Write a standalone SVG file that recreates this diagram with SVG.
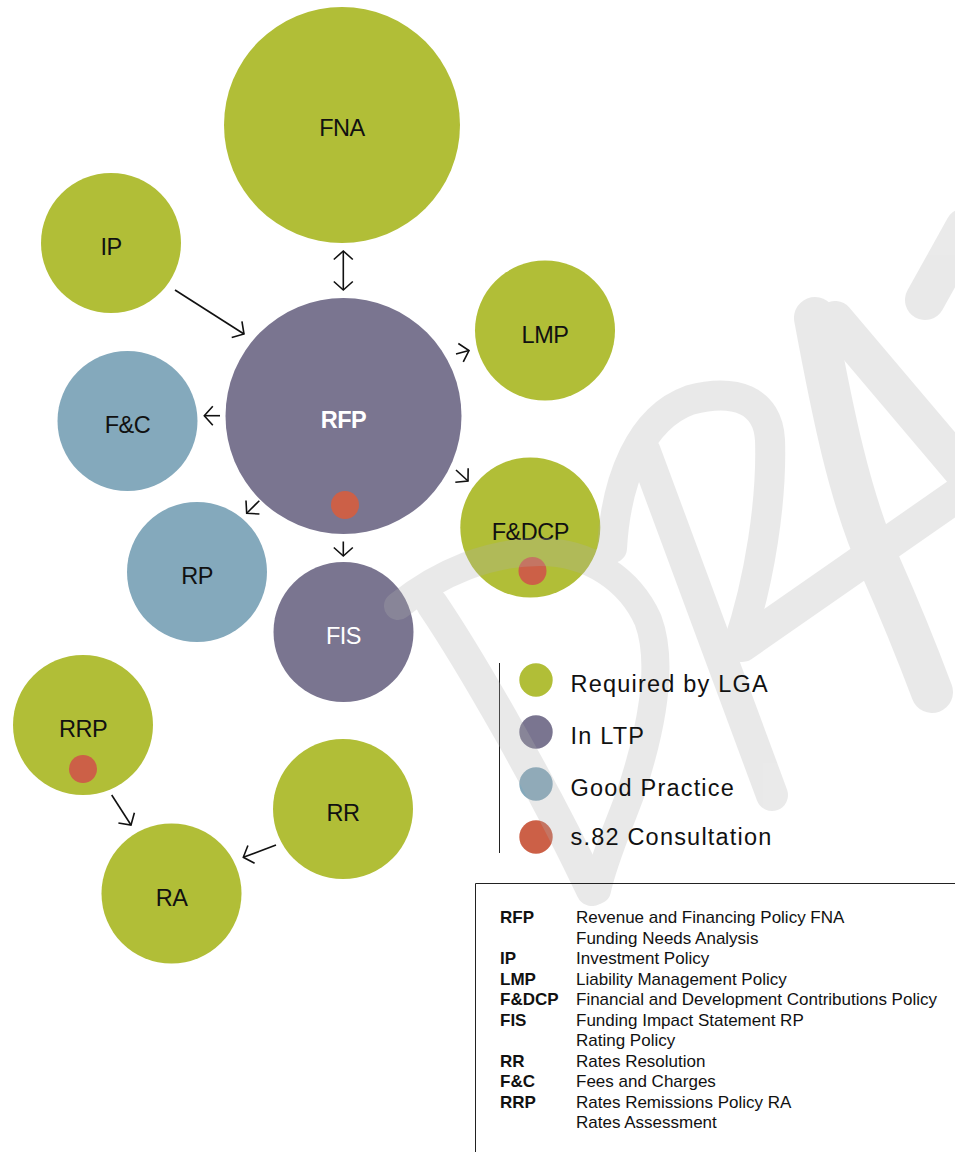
<svg xmlns="http://www.w3.org/2000/svg" width="955" height="1152" viewBox="0 0 955 1152">
<style>
.g{fill:#B1BE37}.p{fill:#7A7590}.b{fill:#84A9BC}.r{fill:#CC6047}
.lbl{font-family:"Liberation Sans",Arial,sans-serif;font-size:23.5px;text-anchor:middle;fill:#111;letter-spacing:-0.5px}
.wt{fill:#fff}.bd{font-weight:bold}
.conn line{stroke:#111;stroke-width:1.6;fill:none;marker-end:url(#ah)}
.wm{opacity:0.27}
.wm path{fill:none;stroke:#b0b0b0;stroke-linecap:round;stroke-linejoin:round}
.leg{font-family:"Liberation Sans",Arial,sans-serif;font-size:23.5px;letter-spacing:1.2px;fill:#111}
.tb{font-family:"Liberation Sans",Arial,sans-serif;font-size:17px;fill:#111}
.tb .a{font-weight:bold}
.rule{stroke:#222;stroke-width:1;fill:none}
</style>
<defs>
<marker id="ah" viewBox="-12 -12 24 24" refX="0" refY="0" markerWidth="24" markerHeight="24" markerUnits="userSpaceOnUse" orient="auto-start-reverse">
<path d="M-8.5,-9.5 L0,0 L-8.5,9.5" fill="none" stroke="#111" stroke-width="1.6"/>
</marker>
</defs>
<rect width="955" height="1152" fill="#fff"/>

<g id="node-FNA"><circle class="g" cx="342" cy="125" r="118"/><text class="lbl" x="342" y="136">FNA</text></g>
<g id="node-IP"><circle class="g" cx="111" cy="243" r="70"/><text class="lbl" x="111" y="255">IP</text></g>
<g id="node-RFP"><circle class="p" cx="343.5" cy="416" r="118"/><circle class="r" cx="345" cy="505" r="14"/><text class="lbl wt bd" x="343.5" y="428">RFP</text></g>
<g id="node-LMP"><circle class="g" cx="545" cy="330.5" r="70"/><text class="lbl" x="545" y="343">LMP</text></g>
<g id="node-FC"><circle class="b" cx="127.5" cy="421" r="70"/><text class="lbl" x="127.5" y="433">F&amp;C</text></g>
<g id="node-FDCP"><circle class="g" cx="530.3" cy="527.5" r="70"/><circle class="r" cx="532.5" cy="571" r="14"/><text class="lbl" x="530.3" y="539.5">F&amp;DCP</text></g>
<g id="node-RP"><circle class="b" cx="197" cy="572" r="70"/><text class="lbl" x="197" y="584">RP</text></g>
<g id="node-FIS"><circle class="p" cx="343.5" cy="632" r="70"/><text class="lbl wt" x="343.5" y="644">FIS</text></g>
<g id="node-RRP"><circle class="g" cx="83" cy="725" r="70"/><circle class="r" cx="83" cy="769" r="14"/><text class="lbl" x="83" y="737">RRP</text></g>
<g id="node-RR"><circle class="g" cx="343" cy="809" r="70"/><text class="lbl" x="343" y="821">RR</text></g>
<g id="node-RA"><circle class="g" cx="171.5" cy="893.5" r="70"/><text class="lbl" x="171.5" y="906">RA</text></g>

<g id="legend-swatches">
<line class="rule" x1="499.5" y1="663" x2="499.5" y2="853"/>
<circle class="g" cx="536" cy="680" r="16.7"/>
<circle class="p" cx="536" cy="732" r="16.7"/>
<circle class="b" cx="536" cy="784" r="16.7"/>
<circle class="r" cx="536" cy="837" r="16.7"/>
</g>

<g id="watermark" class="wm">
<path stroke-width="28" d="M398,606 C440,572 490,552 540,552 C590,552 630,580 648,620 C665,665 650,735 630,795 C615,835 603,862 597,890"/>
<path stroke-width="32" d="M432,604 C470,660 545,790 592,890"/>
<path stroke-width="30" d="M612,548 C616,480 640,418 690,400 C735,388 768,400 770,440 C772,500 760,580 738,645"/>
<path stroke-width="32" d="M645,452 L772,795"/>
<path stroke-width="42" d="M815,318 C832,410 850,500 880,565 C900,610 920,660 932,692"/>
<path stroke-width="38" d="M835,320 L962,470"/>
<path stroke-width="34" d="M742,645 L962,492"/>
<path stroke-width="40" d="M965,228 L925,300"/>
</g>

<g id="legend-text">
<text class="leg" x="570.5" y="692">Required by LGA</text>
<text class="leg" x="570.5" y="744">In LTP</text>
<text class="leg" x="570.5" y="796">Good Practice</text>
<text class="leg" x="570.5" y="845">s.82 Consultation</text>
</g>

<g id="connectors" class="conn">
<line x1="343.3" y1="251" x2="343.3" y2="290" marker-start="url(#ah)"/>
<line x1="175" y1="290" x2="244" y2="334"/>
<line x1="456" y1="354" x2="469" y2="350.5"/>
<line x1="220" y1="415.7" x2="204.3" y2="415.7"/>
<line x1="456" y1="470" x2="468" y2="481"/>
<line x1="259.3" y1="500.7" x2="246.7" y2="513.3"/>
<line x1="343.3" y1="541.5" x2="343.3" y2="556"/>
<line x1="111.7" y1="795" x2="131" y2="825"/>
<line x1="276" y1="845" x2="243.3" y2="857.3"/>
</g>

<g id="glossary" class="tb">
<path class="rule" d="M955,883.5 H475.5 V1152"/>
<text class="a" x="500" y="923">RFP</text><text x="576" y="923">Revenue and Financing Policy FNA</text>
<text x="576" y="943.5">Funding Needs Analysis</text>
<text class="a" x="500" y="964">IP</text><text x="576" y="964">Investment Policy</text>
<text class="a" x="500" y="984.5">LMP</text><text x="576" y="984.5">Liability Management Policy</text>
<text class="a" x="500" y="1005">F&amp;DCP</text><text x="576" y="1005">Financial and Development Contributions Policy</text>
<text class="a" x="500" y="1025.5">FIS</text><text x="576" y="1025.5">Funding Impact Statement RP</text>
<text x="576" y="1046">Rating Policy</text>
<text class="a" x="500" y="1066.5">RR</text><text x="576" y="1066.5">Rates Resolution</text>
<text class="a" x="500" y="1087">F&amp;C</text><text x="576" y="1087">Fees and Charges</text>
<text class="a" x="500" y="1107.5">RRP</text><text x="576" y="1107.5">Rates Remissions Policy RA</text>
<text x="576" y="1128">Rates Assessment</text>
</g>
</svg>
